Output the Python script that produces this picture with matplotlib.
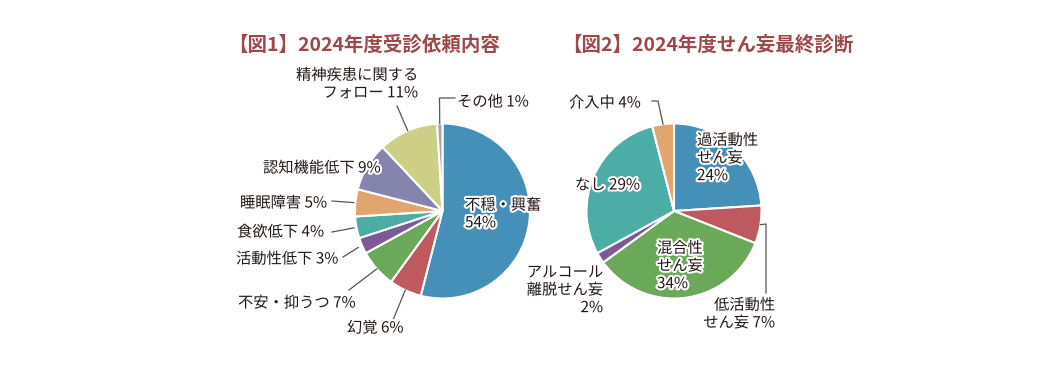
import numpy as np
import matplotlib
matplotlib.use("Agg")
import matplotlib.pyplot as plt
import matplotlib.patheffects as pe

plt.rcParams['font.family'] = ['Noto Sans CJK JP', 'DejaVu Sans']

# ---------------- data ----------------
title1 = '【図1】2024年度受診依頼内容'
labels1 = ['不穏・興奮', '幻覚', '不安・抑うつ', '活動性低下', '食欲低下',
           '睡眠障害', '認知機能低下', '精神疾患に関する\nフォロー', 'その他']
values1 = [54, 6, 7, 3, 4, 5, 9, 11, 1]

title2 = '【図2】2024年度せん妄最終診断'
labels2 = ['過活動性\nせん妄', '低活動性\nせん妄', '混合性\nせん妄',
           'アルコール\n離脱せん妄', 'なし', '介入中']
values2 = [24, 7, 34, 2, 29, 4]

# ---------------- styles / layout ----------------
colors1 = ['#4590b8', '#be5a5f', '#6aa95a', '#7d5a96', '#4bada6',
           '#e1a46d', '#8484ad', '#cdd084', '#a8a8a8']
colors2 = ['#4590b8', '#be5a5f', '#6aa95a', '#7d5a96', '#4bada6', '#e1a46d']
seps1 = ['\n', ' ', ' ', ' ', ' ', ' ', ' ', ' ', ' ']
seps2 = ['\n', ' ', '\n', '\n', ' ', ' ']

W, H = 1048, 370
TXT = '#231815'
TITLE_C = '#a0474b'

# label anchor positions in image pixels (x, y-from-top), alignment
pos1 = [(465, 214, 'left'), (347, 328, 'left'), (238, 303, 'left'),
        (236, 259, 'left'), (237, 232, 'left'), (240, 203, 'left'),
        (263, 168, 'left'), (418, 84, 'right'), (457, 102, 'left')]
pos2 = [(697, 158, 'left'), (775, 314, 'right'), (657, 266, 'left'),
        (603, 290, 'right'), (575, 185, 'left'), (569, 103, 'left')]

# leader lines: fixed points (image px) then end at wedge mid-angle * factor
lead1 = {1: ([(393, 320)], 1.0), 2: ([(349, 290)], 1.0),
         3: ([(343, 257)], 1.05), 4: ([(332, 232)], 1.03),
         5: ([(332, 201)], 1.02), 7: ([(397, 106)], 1.0),
         8: ([(455, 98), (439.5, 98)], 1.0)}
lead2 = {1: ([(766, 293), (766, 224)], 1.0),
         5: ([(652, 101), (658, 101)], 1.0)}

fig = plt.figure(figsize=(W / 100, H / 100), dpi=100)
ax = fig.add_axes([0, 0, 1, 1])
ax.set_xlim(0, W)
ax.set_ylim(0, H)
ax.set_aspect('equal')
ax.axis('off')

halo = [pe.withStroke(linewidth=3, foreground='white')]


def draw(values, labels, colors, seps, pos, leads, cx, cy, r, title, tx):
    ax.pie(values, colors=colors, startangle=90, counterclock=False,
           center=(cx, H - cy), radius=r,
           wedgeprops=dict(edgecolor='white', linewidth=1.5))
    ax.set_xlim(0, W)
    ax.set_ylim(0, H)
    cum = np.cumsum([0] + list(values))
    tot = cum[-1]
    for i, (lab, v) in enumerate(zip(labels, values)):
        x, y, ha = pos[i]
        ax.text(x, H - y, f'{lab}{seps[i]}{v}%', ha=ha, va='center',
                multialignment=ha, fontsize=11, color=TXT,
                linespacing=1.05, path_effects=halo, zorder=5)
        if i in leads:
            pts, fac = leads[i]
            mid = (cum[i] + v / 2) / tot * 2 * np.pi
            ex = cx + r * fac * np.sin(mid)
            ey = cy - r * fac * np.cos(mid)
            xs = [p[0] for p in pts] + [ex]
            ys = [H - p[1] for p in pts] + [H - ey]
            ax.plot(xs, ys, color='#555555', lw=0.9, zorder=4)
    fig.text(tx / W, 1 - 45 / H, title, ha='left', va='center',
             fontsize=14, fontweight='bold', color=TITLE_C)


draw(values1, labels1, colors1, seps1, pos1, lead1, 442.5, 211, 87.5, title1, 228)
draw(values2, labels2, colors2, seps2, pos2, lead2, 674, 211, 87.5, title2, 562)

fig.savefig('out.png', dpi=100, facecolor='white')
